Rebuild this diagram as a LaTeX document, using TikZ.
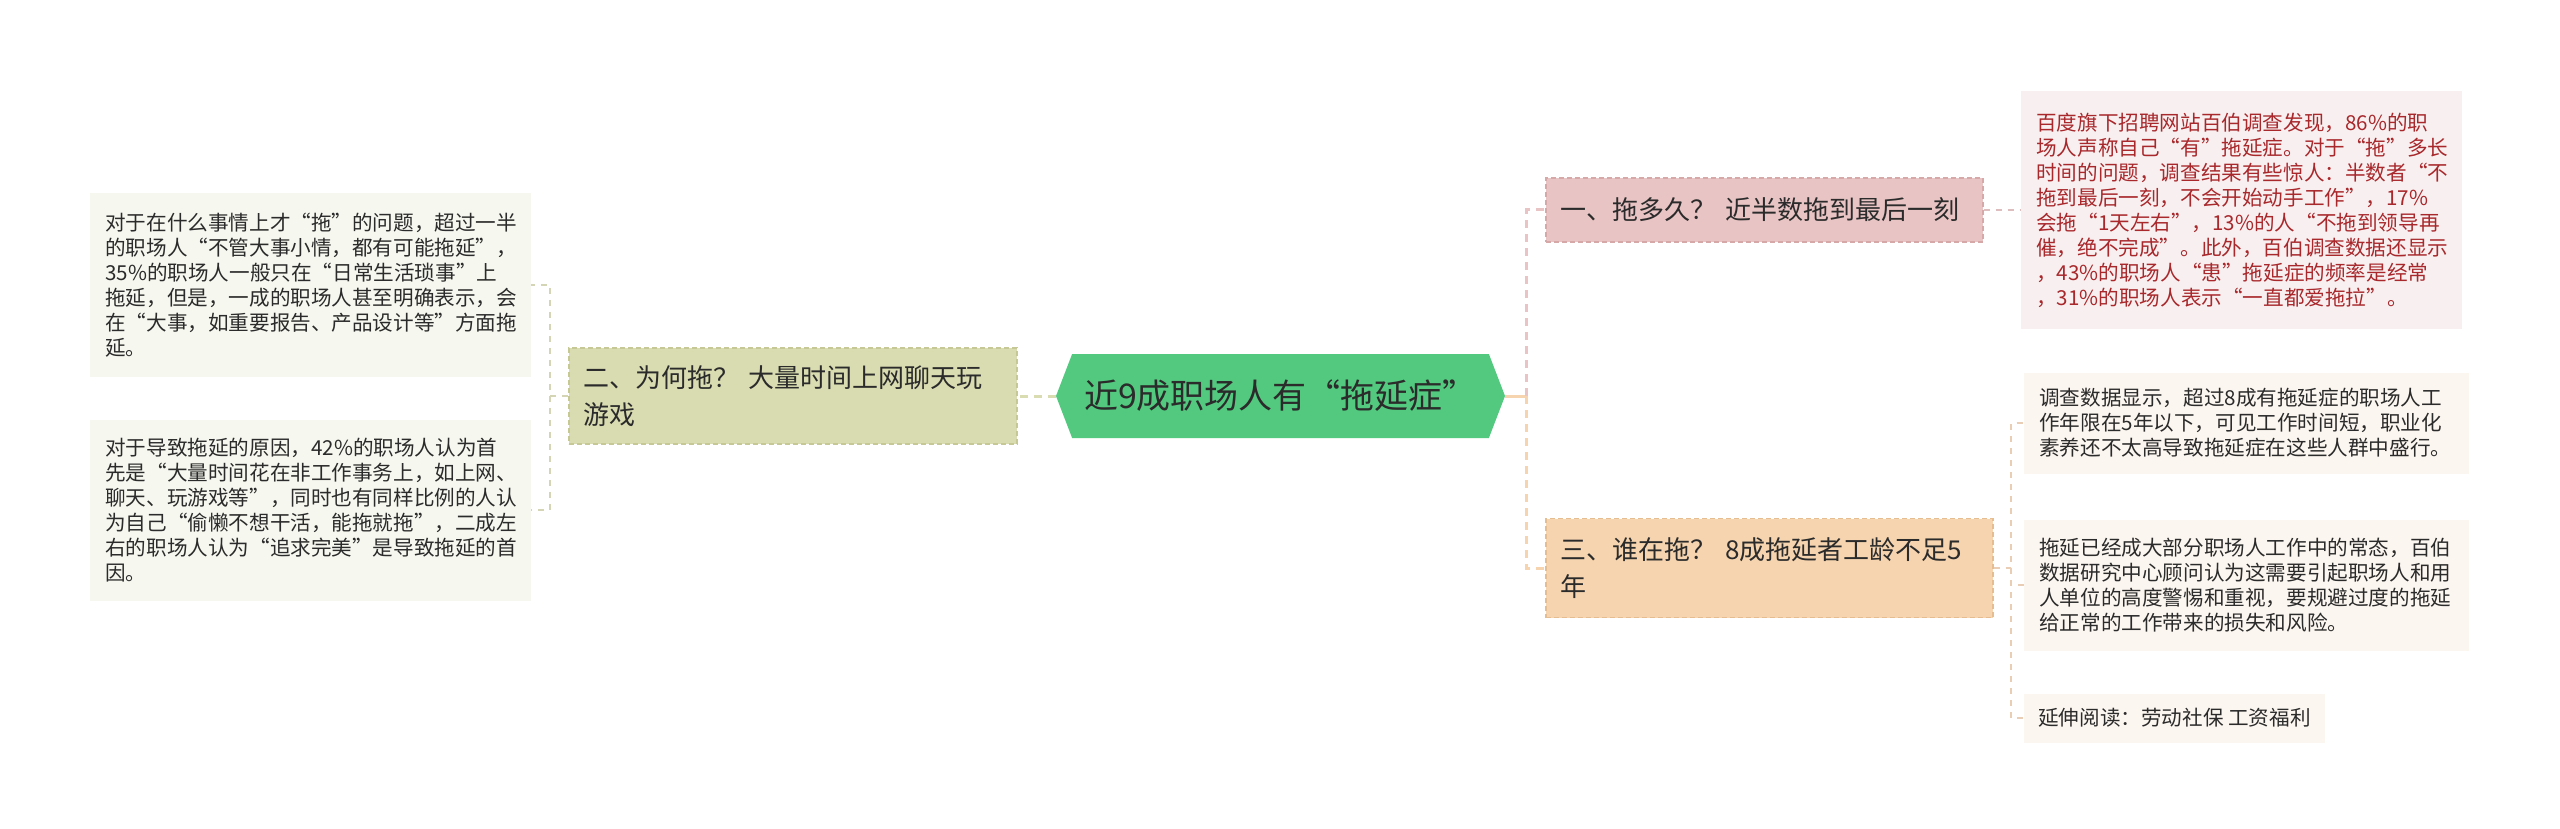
\documentclass[tikz,border=0pt]{standalone}
\usepackage{fontspec}
\setmainfont{Noto Sans CJK SC}
\usetikzlibrary{shapes.symbols}
\definecolor{txt}{HTML}{2B2B2B}
\definecolor{rootg}{HTML}{52C97F}
\definecolor{olivef}{HTML}{D9DCB1}
\definecolor{oliveb}{HTML}{C6C995}
\definecolor{pinkf}{HTML}{E8C4C4}
\definecolor{pinkb}{HTML}{D6A8A8}
\definecolor{peachf}{HTML}{F5D4AF}
\definecolor{peachb}{HTML}{E6BD90}
\definecolor{leafl}{HTML}{F6F7EF}
\definecolor{leafp}{HTML}{F8F0F0}
\definecolor{leafo}{HTML}{FCF6F0}
\definecolor{redtxt}{HTML}{A8282C}
\definecolor{lconn}{HTML}{D3D5B4}
\definecolor{pconn}{HTML}{DDBDBD}
\definecolor{oconn}{HTML}{E9CDB5}
\begin{document}
\begin{tikzpicture}[x=1pt,y=-1pt,
  leafbox/.style={rectangle, anchor=west, inner xsep=15pt, inner ysep=0pt, align=left,
    text=txt, font=\fontsize{20.6}{25}\selectfont},
  branchbox/.style={rectangle, anchor=west, inner xsep=15pt, inner ysep=0pt, align=left,
    text=txt, font=\fontsize{26}{37}\selectfont, dashed, line width=1.5pt, dash pattern=on 5pt off 3pt},
  thinlink/.style={dashed, line width=1.5pt, dash pattern=on 6pt off 6pt},
  thicklink/.style={line width=3pt, dash pattern=on 8pt off 6pt}
]
\useasboundingbox[fill=white] (0,0) rectangle (2560,829);

% root
\node[signal, signal to=east and west, signal pointer angle=138, fill=rootg,
  minimum width=449pt, minimum height=84pt, inner sep=0pt, text=txt,
  font=\fontsize{34}{40}\selectfont] (root) at (1280.5,396) {近9成职场人有“拖延症”};

% branches
\node[branchbox, fill=olivef, draw=oliveb, text width=418pt, minimum height=96pt] (b2) at (568,396)
  {二、为何拖？ 大量时间上网聊天玩\\游戏};
\node[branchbox, fill=pinkf, draw=pinkb, text width=407pt, minimum height=64pt] (b1) at (1545,210)
  {一、拖多久？ 近半数拖到最后一刻};
\node[branchbox, fill=peachf, draw=peachb, text width=417pt, minimum height=99pt] (b3) at (1545,568)
  {三、谁在拖？ 8成拖延者工龄不足5\\年};

% left leaves
\node[leafbox, fill=leafl, text width=411pt, minimum height=183pt] (l1) at (90,285)
  {对于在什么事情上才“拖”的问题，超过一半\\的职场人“不管大事小情，都有可能拖延”，\\35\%的职场人一般只在“日常生活琐事”上\\拖延，但是，一成的职场人甚至明确表示，会\\在“大事，如重要报告、产品设计等”方面拖\\延。};
\node[leafbox, fill=leafl, text width=411pt, minimum height=181pt] (l2) at (90,510)
  {对于导致拖延的原因，42\%的职场人认为首\\先是“大量时间花在非工作事务上，如上网、\\聊天、玩游戏等”，同时也有同样比例的人认\\为自己“偷懒不想干活，能拖就拖”，二成左\\右的职场人认为“追求完美”是导致拖延的首\\因。};

% right leaves
\node[leafbox, fill=leafp, text=redtxt, text width=411pt, minimum height=237pt] (r1) at (2021,210)
  {百度旗下招聘网站百伯调查发现，86\%的职\\场人声称自己“有”拖延症。对于“拖”多长\\时间的问题，调查结果有些惊人：半数者“不\\拖到最后一刻，不会开始动手工作”，17\%\\会拖“1天左右”，13\%的人“不拖到领导再\\催，绝不完成”。此外，百伯调查数据还显示\\，43\%的职场人“患”拖延症的频率是经常\\，31\%的职场人表示“一直都爱拖拉”。};
\node[leafbox, fill=leafo, text width=415pt, minimum height=101pt] (r2) at (2024,423)
  {调查数据显示，超过8成有拖延症的职场人工\\作年限在5年以下，可见工作时间短，职业化\\素养还不太高导致拖延症在这些人群中盛行。};
\node[leafbox, fill=leafo, text width=415pt, minimum height=131pt] (r3) at (2024,585)
  {拖延已经成大部分职场人工作中的常态，百伯\\数据研究中心顾问认为这需要引起职场人和用\\人单位的高度警惕和重视，要规避过度的拖延\\给正常的工作带来的损失和风险。};
\node[leafbox, fill=leafo, inner xsep=14pt, minimum height=49pt] (r4) at (2024,718)
  {延伸阅读：劳动社保 工资福利};

% junctions
\coordinate (jl) at (550,396);
\coordinate (jr) at (1526,396);
\coordinate (j3) at (2011,568);

% connectors
\draw[thicklink, draw=olivef] (root.west) -- (b2.east);
\draw[thinlink, draw=lconn] (b2.west) -- (jl) |- (l1.east);
\draw[thinlink, draw=lconn] (jl) |- (l2.east);
\draw[line width=3pt, draw=peachf] (root.east) -- (jr);
\draw[thicklink, draw=pinkf] (jr) |- (b1.west);
\draw[thicklink, draw=peachf] (jr) |- (b3.west);
\draw[thinlink, draw=pconn] (b1.east) -- (r1.west);
\draw[thinlink, draw=oconn] (b3.east) -- (j3) |- (r2.west);
\draw[thinlink, draw=oconn] (j3) |- (r3.west);
\draw[thinlink, draw=oconn] (j3) |- (r4.west);
\end{tikzpicture}
\end{document}
